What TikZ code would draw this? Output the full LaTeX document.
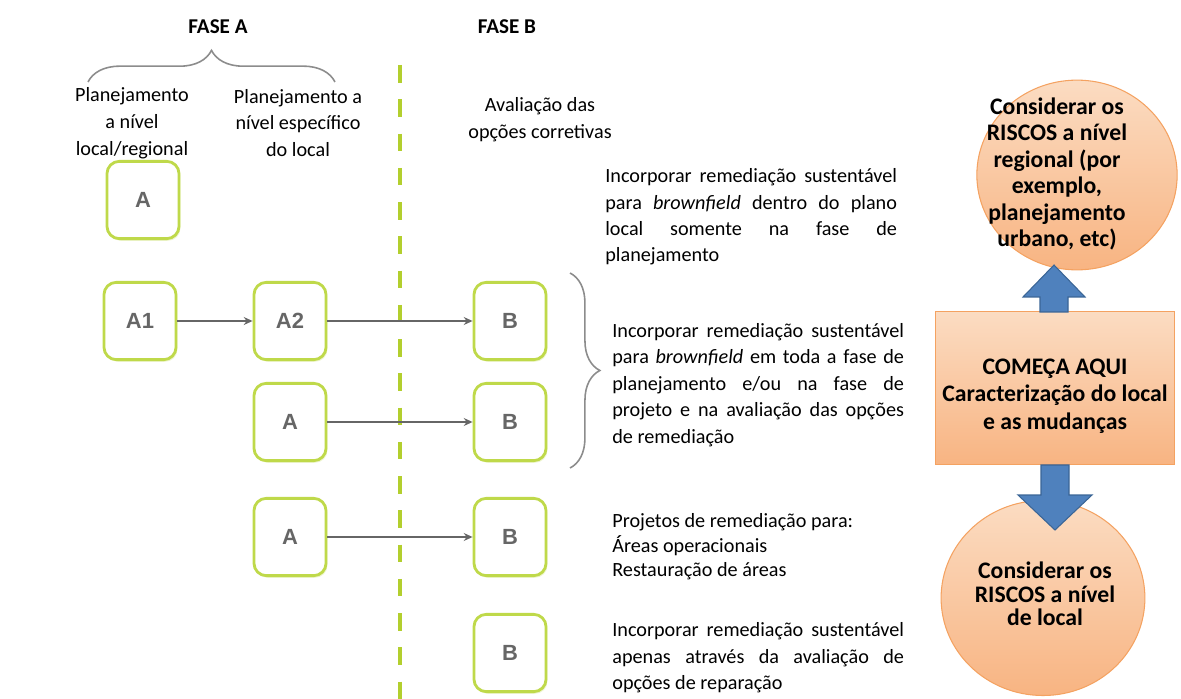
\documentclass[tikz,border=0pt]{standalone}
\usepackage{fontspec}
\setmainfont{Carlito}
\newfontfamily\boxfont{Liberation Sans}
\usetikzlibrary{arrows.meta,decorations.pathreplacing,shapes.geometric,shadows}

\definecolor{boxgreen}{HTML}{BFD94A}
\definecolor{dashgreen}{HTML}{B3CF2E}
\definecolor{arrowgray}{HTML}{666666}
\definecolor{bracegray}{HTML}{8C8C8C}
\definecolor{peachlight}{HTML}{FBDCC2}
\definecolor{peachdark}{HTML}{F8B482}
\definecolor{peachline}{HTML}{F4A261}
\definecolor{blockblue}{HTML}{4F81BD}
\definecolor{blockline}{HTML}{3A6596}

\newcommand\jline[1]{\makebox[166pt][s]{#1}}

\tikzset{
  stage/.style={draw=boxgreen, line width=1.6pt, rounded corners=7pt, fill=white,
    minimum width=41pt, minimum height=44pt, text=black!60,
    font=\boxfont\bfseries\fontsize{12.5}{14}\selectfont,
    drop shadow={shadow xshift=0.8pt, shadow yshift=-1.2pt, fill=boxgreen!50, opacity=0.5}},
  flow/.style={-{Stealth[length=5pt,width=4.5pt]}, arrowgray, line width=0.9pt},
  phase/.style={font=\bfseries\fontsize{12}{14}\selectfont},
  head/.style={font=\fontsize{11.5}{15.3}\selectfont, align=center},
  note/.style={font=\fontsize{11.5}{15}\selectfont, align=left, inner sep=0pt, anchor=west},
  risk/.style={ellipse, draw=peachline, line width=0.6pt, top color=peachlight, bottom color=peachdark, inner sep=0pt},
  risktext/.style={font=\bfseries\fontsize{13.5}{15}\selectfont, align=center},
  start/.style={draw=peachline, line width=0.6pt, top color=peachlight, bottom color=peachdark},
  bigarrow/.style={fill=blockblue, draw=blockline, line width=0.6pt}
}

\begin{document}
\begin{tikzpicture}[x=0.02cm, y=-0.02cm]
  \useasboundingbox (0,0) rectangle (1181,699);

  % headers
  \node[phase] (fa) at (218,27) {FASE A};
  \node[phase] (fb) at (507,27) {FASE B};
  \draw[bracegray, line width=0.9pt, decorate, decoration={brace, amplitude=18pt}] (88,82) -- (335,82);
  \node[head] (h1) at (132,123) {Planejamento\\a nível\\local/regional};
  \node[head] (h2) at (298,123) {Planejamento a\\nível específico\\do local};
  \node[head] (h3) at (540,120) {Avaliação das\\opções corretivas};

  \draw[dashgreen, line width=2.5pt, dash pattern=on 10pt off 9.5pt] (400,65) -- (400,699);

  % boxes
  \node[stage] (a0) at (143,200) {A};
  \node[stage] (a1) at (140,321) {A1};
  \node[stage] (a2) at (290,321) {A2};
  \node[stage] (b1) at (510,321) {B};
  \node[stage] (a3) at (290,422) {A};
  \node[stage] (b2) at (510,422) {B};
  \node[stage] (a4) at (290,537) {A};
  \node[stage] (b3) at (510,537) {B};
  \node[stage] (b4) at (510,653) {B};

  \draw[flow] (a1) -- (a2);
  \draw[flow] (a2) -- (b1);
  \draw[flow] (a3) -- (b2);
  \draw[flow] (a4) -- (b3);

  \draw[bracegray, line width=0.9pt, decorate, decoration={brace, amplitude=17pt}] (570,273) -- (570,468);

  % notes
  \node[note] (t1) at (605,217) {\jline{Incorporar remediação sustentável}\\
    \jline{para \textit{brownfield} dentro do plano}\\
    \jline{local somente na fase de}\\
    planejamento};
  \node[note] (t2) at (612,385) {\jline{Incorporar remediação sustentável}\\
    \jline{para \textit{brownfield} em toda a fase de}\\
    \jline{planejamento e/ou na fase de}\\
    \jline{projeto e na avaliação das opções}\\
    de remediação};
  \node[note, font=\fontsize{11.5}{14}\selectfont] (t3) at (612,547) {Projetos de remediação para:\\
    Áreas operacionais\\
    Restauração de áreas};
  \node[note] (t4) at (612,658) {\jline{Incorporar remediação sustentável}\\
    \jline{apenas através da avaliação de}\\
    opções de reparação};

  % right panel
  \node[risk, minimum width=114pt, minimum height=108pt] (r1) at (1077,175) {};
  \node[risktext] (r1t) at (1057,174) {Considerar os\\RISCOS a nível\\regional (por\\exemplo,\\planejamento\\urbano, etc)};
  \node[start, minimum width=136pt, minimum height=86.7pt] (s) at (1055,388) {};
  \node[risktext, font=\bfseries\fontsize{13.5}{15.5}\selectfont] (st) at (1055,396) {COMEÇA AQUI\\Caracterização do local\\e as mudanças};
  \node[risk, minimum width=116pt, minimum height=111pt] (r2) at (1043,598) {};
  \node[risktext, font=\bfseries\fontsize{13.5}{13.5}\selectfont] (r2t) at (1045,594) {Considerar os\\RISCOS a nível\\de local};

  \draw[bigarrow] (1040,312) -- (1040,297) -- (1023,297) -- (1054,265) -- (1085,297) -- (1068,297) -- (1068,312) -- cycle;
  \draw[bigarrow] (1041,465) -- (1041,495) -- (1018,495) -- (1055,530) -- (1092,495) -- (1069,495) -- (1069,465) -- cycle;
\end{tikzpicture}
\end{document}
